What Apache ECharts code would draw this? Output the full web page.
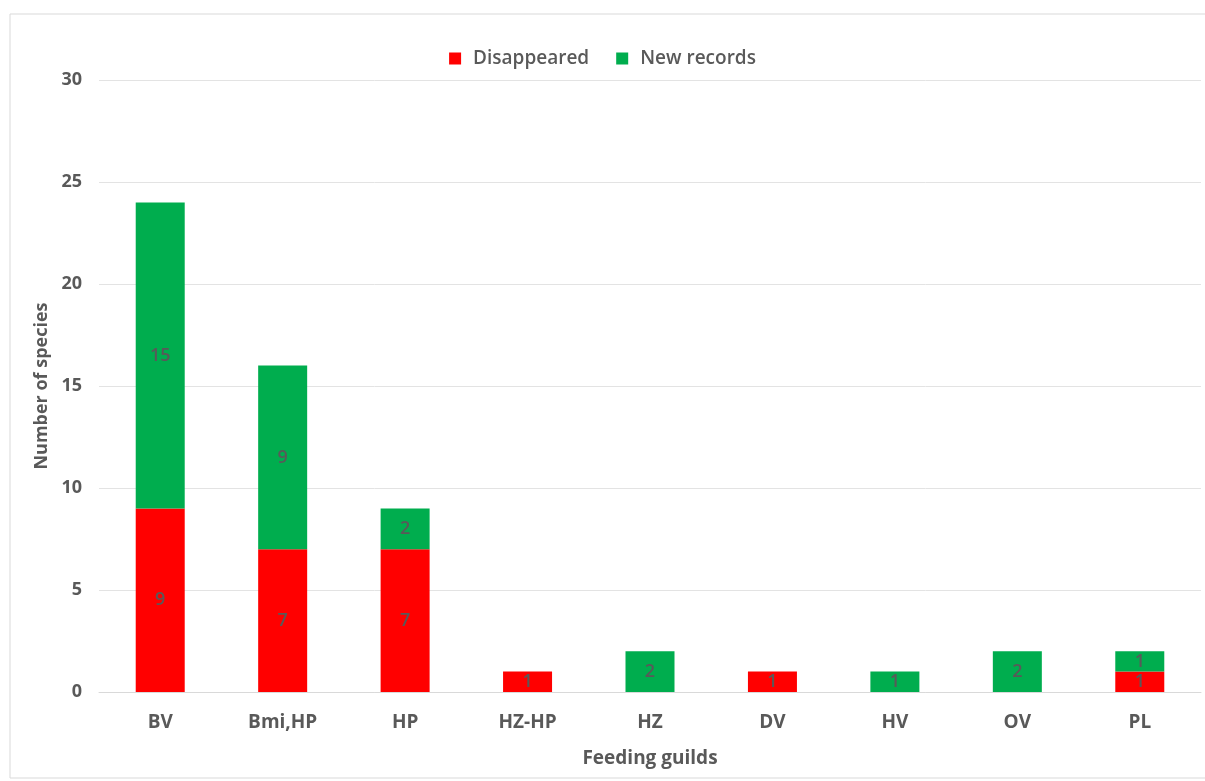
<!DOCTYPE html>
<html>
<head>
<meta charset="utf-8">
<script src="https://cdn.jsdelivr.net/npm/echarts@6/dist/echarts.min.js"></script>
<style>
  html, body { margin: 0; padding: 0; background: #fff; }
  #chart { width: 1205px; height: 781px; }
</style>
</head>
<body>
<div id="chart"></div>
<script>
// Feeding guilds and species counts
const categories = ['BV', 'Bmi,HP', 'HP', 'HZ-HP', 'HZ', 'DV', 'HV', 'OV', 'PL'];
const disappeared = [9, 7, 7, 1, 0, 1, 0, 0, 1];
const newRecords = [15, 9, 2, 0, 2, 0, 1, 2, 1];
const yTicks = [0, 5, 10, 15, 20, 25, 30];

const FONT = '"Open Sans", "Noto Sans", sans-serif';
const TEXT = '#595959';

const chart = echarts.init(document.getElementById('chart'), null, { renderer: 'canvas' });

// Segment values written inside the bars; empty segments stay unlabelled
const labelCfg = {
  show: true,
  position: 'inside',
  color: TEXT,
  fontFamily: FONT,
  fontSize: 18,
  fontWeight: 600,
  formatter: p => (p.value ? p.value : '')
};

chart.setOption({
  animation: false,
  backgroundColor: '#fff',
  graphic: [{
    type: 'rect',
    shape: { x: 10, y: 14, width: 1205, height: 764 },
    style: { fill: 'none', stroke: '#d9d9d9', lineWidth: 1 },
    silent: true
  }],
  legend: {
    top: 44,
    left: 'center',
    itemWidth: 12,
    itemHeight: 12,
    itemGap: 27,
    icon: 'rect',
    textStyle: { color: TEXT, fontFamily: FONT, fontSize: 19, fontWeight: 600, padding: [0, 0, 0, 7] },
    data: ['Disappeared', 'New records']
  },
  grid: { left: 99, right: 4, top: 80, bottom: 89 },
  xAxis: {
    type: 'category',
    data: categories,
    name: 'Feeding guilds',
    nameLocation: 'middle',
    nameGap: 57,
    nameTextStyle: { color: TEXT, fontFamily: FONT, fontSize: 19, fontWeight: 'bold' },
    axisLine: { lineStyle: { color: '#d9d9d9' } },
    axisTick: { show: false },
    axisLabel: { color: TEXT, fontFamily: FONT, fontSize: 19, fontWeight: 'bold', margin: 21 }
  },
  yAxis: {
    type: 'value',
    min: yTicks[0],
    max: yTicks[yTicks.length - 1],
    interval: yTicks[1] - yTicks[0],
    name: 'Number of species',
    nameLocation: 'middle',
    nameGap: 42,
    nameTextStyle: { color: TEXT, fontFamily: FONT, fontSize: 18, fontWeight: 'bold' },
    axisLine: { show: false },
    axisTick: { show: false },
    axisLabel: { color: TEXT, fontFamily: FONT, fontSize: 18, fontWeight: 'bold', margin: 17 },
    splitLine: { lineStyle: { color: '#e3e3e3', width: 1 } }
  },
  series: [
    {
      name: 'Disappeared',
      type: 'bar',
      stack: 'total',
      barWidth: 49,
      data: disappeared,
      itemStyle: { color: '#ff0000' },
      label: labelCfg
    },
    {
      name: 'New records',
      type: 'bar',
      stack: 'total',
      barWidth: 49,
      data: newRecords,
      itemStyle: { color: '#00ad4e' },
      label: labelCfg
    }
  ]
});
</script>
</body>
</html>
